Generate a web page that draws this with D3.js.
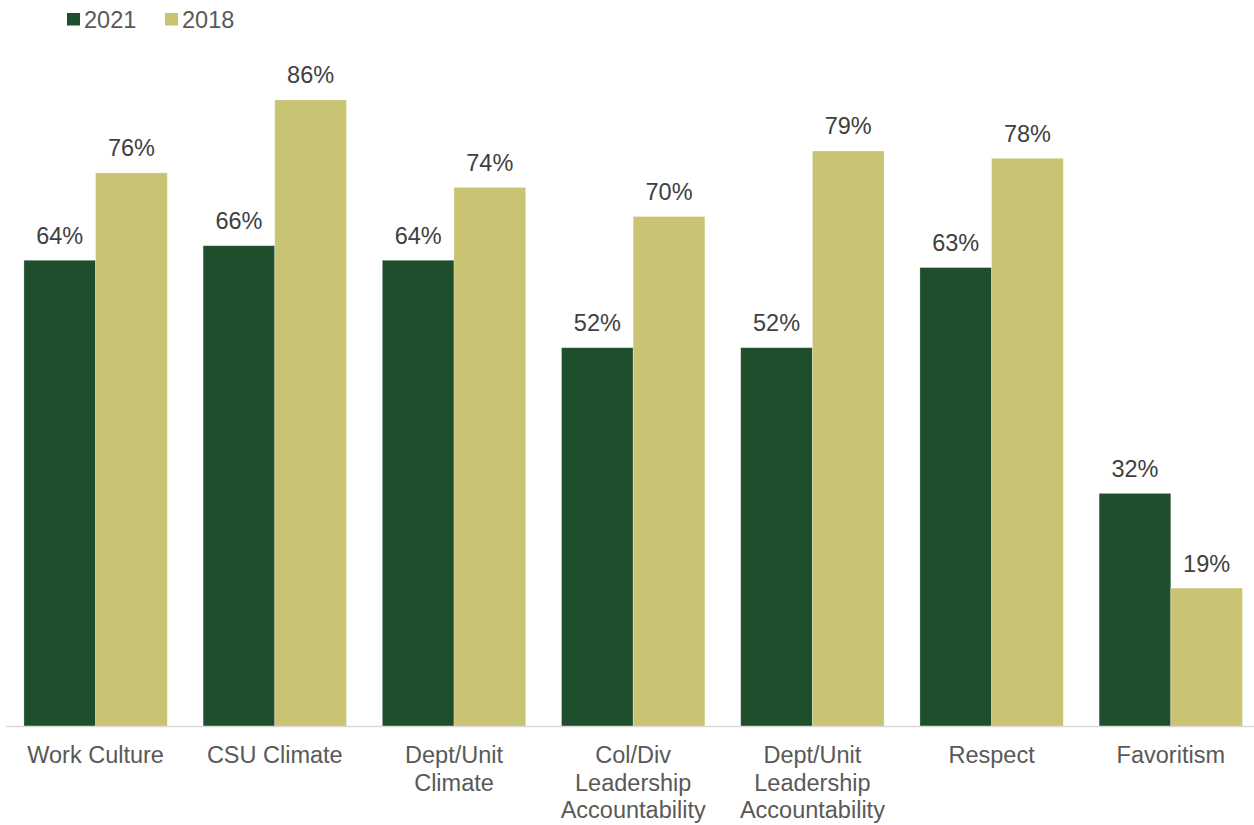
<!DOCTYPE html>
<html>
<head>
<meta charset="utf-8">
<script src="https://cdn.jsdelivr.net/npm/d3@7"></script>
<style>
  body { margin: 0; background: #fff; }
  svg { display: block; font-family: "Liberation Sans", Arial, sans-serif; }
</style>
</head>
<body>
<div id="chart"></div>
<script>
// Data
var categories = [
  ["Work Culture"],
  ["CSU Climate"],
  ["Dept/Unit", "Climate"],
  ["Col/Div", "Leadership", "Accountability"],
  ["Dept/Unit", "Leadership", "Accountability"],
  ["Respect"],
  ["Favoritism"]
];
var seriesNames = ["2021", "2018"];
var values2021 = [64, 66, 64, 52, 52, 63, 32];
var values2018 = [76, 86, 74, 70, 79, 78, 19];
var colors = ["#1f4e2d", "#c9c474"];

var W = 1254, H = 825;
var baseY = 726.5;

var svg = d3.select("#chart").append("svg")
  .attr("width", W)
  .attr("height", H);

var x0 = d3.scaleBand()
  .domain(d3.range(categories.length))
  .range([6, 1260.4])
  .paddingInner(0.2)
  .paddingOuter(0.1);

var x1 = d3.scaleBand()
  .domain(seriesNames)
  .range([0, x0.bandwidth()]);

var y = d3.scaleLinear()
  .domain([0, 100])
  .range([baseY, -2]);

var series = [values2021, values2018];

var groups = svg.selectAll(".group")
  .data(categories)
  .enter().append("g")
  .attr("class", "group")
  .attr("transform", function(d, i) { return "translate(" + x0(i) + ",0)"; });

groups.each(function(d, i) {
  var g = d3.select(this);
  seriesNames.forEach(function(s, k) {
    var v = series[k][i];
    g.append("rect")
      .attr("x", x1(s))
      .attr("y", y(v))
      .attr("width", x1.bandwidth())
      .attr("height", baseY - y(v))
      .attr("fill", colors[k])
      .attr("stroke", "#ffffff")
      .attr("stroke-opacity", 0.35)
      .attr("stroke-width", 0.75);
    g.append("text")
      .attr("x", x1(s) + x1.bandwidth() / 2)
      .attr("y", y(v) - 16.5)
      .attr("text-anchor", "middle")
      .style("font-size", "23.5px")
      .style("fill", "#404040")
      .text(v + "%");
  });
});

// axis line
svg.append("line")
  .attr("x1", 6)
  .attr("x2", W)
  .attr("y1", baseY)
  .attr("y2", baseY)
  .style("stroke", "#d9d9d9")
  .style("stroke-width", 1.5);

// category labels
var labels = svg.selectAll(".cat")
  .data(categories)
  .enter().append("text")
  .attr("class", "cat")
  .attr("text-anchor", "middle")
  .attr("x", function(d, i) { return x0(i) + x0.bandwidth() / 2; })
  .attr("y", 763)
  .style("font-size", "23.5px")
  .style("fill", "#595959");

labels.selectAll("tspan")
  .data(function(d) { return d; })
  .enter().append("tspan")
  .attr("x", function() { return d3.select(this.parentNode).attr("x"); })
  .attr("dy", function(d, j) { return j === 0 ? 0 : 27.5; })
  .text(function(d) { return d; });

// legend
var legendX = [67, 165];
var legend = svg.selectAll(".legend")
  .data(seriesNames)
  .enter().append("g")
  .attr("class", "legend")
  .attr("transform", function(d, i) { return "translate(" + legendX[i] + ",0)"; });

legend.append("rect")
  .attr("x", 0)
  .attr("y", 13)
  .attr("width", 13)
  .attr("height", 12.5)
  .attr("fill", function(d, i) { return colors[i]; });

legend.append("text")
  .attr("x", 17)
  .attr("y", 27.5)
  .style("font-size", "23.5px")
  .style("fill", "#595959")
  .text(function(d) { return d; });
</script>
</body>
</html>
